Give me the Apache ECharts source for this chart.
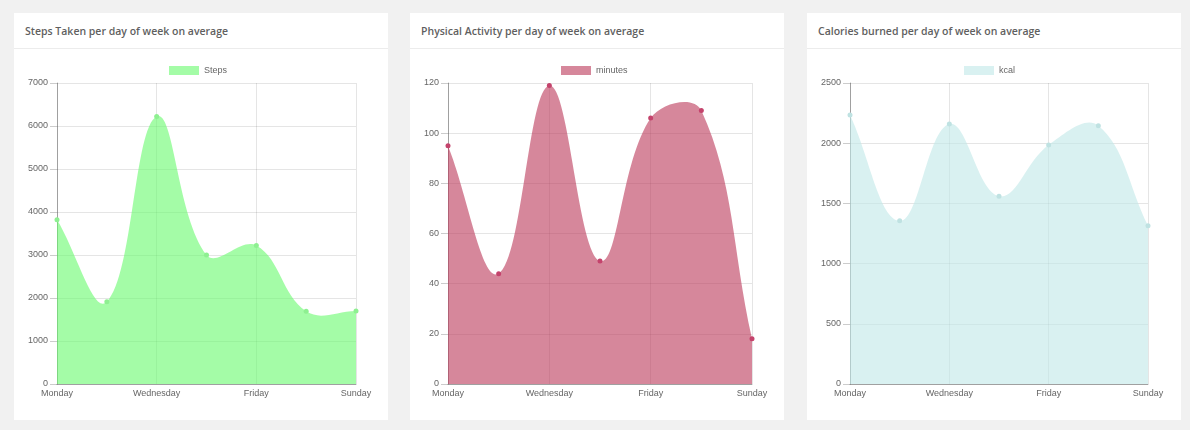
<!DOCTYPE html>
<html>
<head>
<meta charset="utf-8">
<script src="https://cdn.jsdelivr.net/npm/echarts@6/dist/echarts.min.js"></script>
<style>
  html, body { margin: 0; padding: 0; }
  body { width: 1190px; height: 430px; background: #f1f1f1; position: relative; overflow: hidden; }
  .card { position: absolute; top: 13px; width: 374px; height: 407px; background: #fff; box-sizing: border-box; }
  .card h3 { margin: 0; height: 35px; padding-left: 11px; font: 600 10.5px "Open Sans", sans-serif; line-height: 36px; color: #5f5f5f; border-bottom: 1px solid #ececec; }
  #chart { position: absolute; left: 0; top: 0; width: 1190px; height: 430px; }
</style>
</head>
<body>
<div class="card" style="left:14px"><h3>Steps Taken per day of week on average</h3></div>
<div class="card" style="left:410px"><h3>Physical Activity per day of week on average</h3></div>
<div class="card" style="left:807px"><h3>Calories burned per day of week on average</h3></div>
<div id="chart"></div>
<script>
// Weekly averages shown in the three cards
const days = ['Monday', 'Tuesday', 'Wednesday', 'Thursday', 'Friday', 'Saturday', 'Sunday'];
const steps = [3820, 1910, 6220, 3000, 3220, 1690, 1700];
const minutes = [95, 44, 119, 49, 106, 109, 18];
const kcal = [2235, 1355, 2160, 1560, 1985, 2145, 1315];

const seriesNames = ['Steps', 'minutes', 'kcal'];
const yMax = [7000, 120, 2500];
const yStep = [1000, 20, 500];

const fills = ['rgba(103,250,108,0.6)', 'rgba(187,55,88,0.6)', 'rgba(192,232,232,0.6)'];
const points = ['#8ef091', '#c4436c', '#bfe2e2'];

const grids = [
  { left: 57, top: 83, width: 299, height: 301 },
  { left: 448, top: 83, width: 304, height: 301 },
  { left: 850, top: 83, width: 298, height: 301 }
];
const legendLeft = [169, 561, 964];

const labelText = { color: '#666', fontSize: 9, fontFamily: 'Liberation Sans, Arial, sans-serif' };
const gridLine = 'rgba(0,0,0,0.1)';
const axisLine = 'rgba(0,0,0,0.3)';

const values = [steps, minutes, kcal];
const TENSION = 0.4;

// Cardinal-style spline through pixel points (control points scaled by segment lengths,
// then kept inside the plot rectangle).
function splinePath(pts, rect) {
  const clampX = v => Math.min(Math.max(v, rect.x), rect.x + rect.width);
  const clampY = v => Math.min(Math.max(v, rect.y), rect.y + rect.height);
  const cps = pts.map((cur, i) => {
    const prev = pts[i - 1] || cur;
    const next = pts[i + 1] || cur;
    const d01 = Math.hypot(cur[0] - prev[0], cur[1] - prev[1]);
    const d12 = Math.hypot(next[0] - cur[0], next[1] - cur[1]);
    const sum = d01 + d12;
    const fa = sum ? TENSION * d01 / sum : 0;
    const fb = sum ? TENSION * d12 / sum : 0;
    const vx = next[0] - prev[0], vy = next[1] - prev[1];
    return {
      before: [clampX(cur[0] - fa * vx), clampY(cur[1] - fa * vy)],
      after: [clampX(cur[0] + fb * vx), clampY(cur[1] + fb * vy)]
    };
  });
  let d = 'M' + pts[0][0] + ',' + pts[0][1];
  for (let i = 1; i < pts.length; i++) {
    const a = cps[i - 1].after, b = cps[i].before;
    d += ' C' + a[0] + ',' + a[1] + ' ' + b[0] + ',' + b[1] + ' ' + pts[i][0] + ',' + pts[i][1];
  }
  return d;
}

function areaRenderer(k) {
  return function (params, api) {
    if (params.dataIndex !== 0) return null;
    const rect = params.coordSys;
    const pts = values[k].map((v, i) => api.coord([i, v]));
    const base = rect.y + rect.height;
    let d = splinePath(pts, rect);
    d += ' L' + pts[pts.length - 1][0] + ',' + base + ' L' + pts[0][0] + ',' + base + ' Z';
    return { type: 'path', shape: { pathData: d }, style: { fill: fills[k], stroke: null } };
  };
}

const series = [];
seriesNames.forEach((n, i) => {
  series.push({
    name: n + ' area', type: 'custom', xAxisIndex: i, yAxisIndex: i, z: 2,
    coordinateSystem: 'cartesian2d', clip: false, silent: true,
    data: values[i].map((v, j) => [j, v]),
    encode: { x: 0, y: 1 },
    renderItem: areaRenderer(i)
  });
  series.push({
    name: n, type: 'line', xAxisIndex: i, yAxisIndex: i, z: 3,
    data: values[i],
    symbol: 'circle', symbolSize: 5, showAllSymbol: true,
    itemStyle: { color: points[i], borderWidth: 0 },
    lineStyle: { width: 0, opacity: 0 }
  });
});

const option = {
  animation: false,
  backgroundColor: 'transparent',
  grid: grids.map(g => Object.assign({ containLabel: false }, g)),
  legend: seriesNames.map((n, i) => ({
    left: legendLeft[i], top: 66, padding: 0,
    itemWidth: 30, itemHeight: 9, itemGap: 10,
    textStyle: { color: '#666', fontSize: 9, fontFamily: 'Liberation Sans, Arial, sans-serif' },
    data: [{ name: n, icon: 'rect', itemStyle: { color: fills[i], borderWidth: 0, opacity: 1 } }]
  })),
  xAxis: seriesNames.map((n, i) => ({
    type: 'category', gridIndex: i, data: days, boundaryGap: false,
    axisLine: { lineStyle: { color: axisLine, width: 1 } },
    axisTick: { show: false },
    axisLabel: Object.assign({ interval: 1, margin: 5 }, labelText),
    splitLine: { show: true, interval: 1, lineStyle: { color: gridLine, width: 1 } }
  })),
  yAxis: seriesNames.map((n, i) => ({
    type: 'value', gridIndex: i, min: 0, max: yMax[i], interval: yStep[i],
    axisLine: { show: true, lineStyle: { color: axisLine, width: 1 } },
    axisTick: { show: true, length: 7, lineStyle: { color: 'rgba(0,0,0,0.2)' } },
    axisLabel: Object.assign({ margin: 9, formatter: v => String(v) }, labelText),
    splitLine: { show: true, lineStyle: { color: gridLine, width: 1 } }
  })),
  series: series
};

const chart = echarts.init(document.getElementById('chart'), null, { renderer: 'canvas' });
chart.setOption(option);
</script>
</body>
</html>
